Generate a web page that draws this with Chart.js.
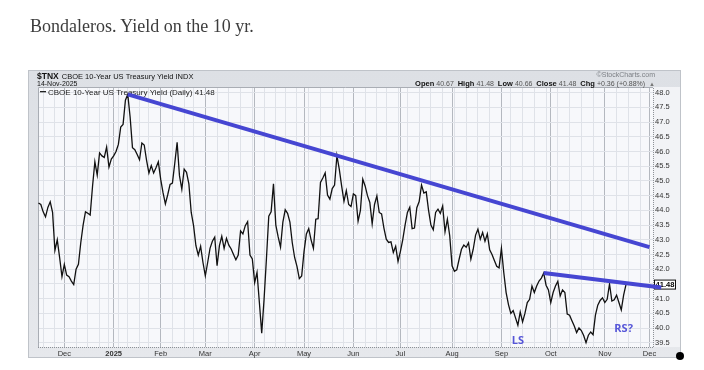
<!DOCTYPE html>
<html>
<head>
<meta charset="utf-8">
<script src="https://cdn.jsdelivr.net/npm/chart.js@4.4.1/dist/chart.umd.min.js"></script>
<style>
  html, body { margin: 0; padding: 0; background: #fff; }
  #wrap { position: relative; width: 704px; height: 370px; }
  #tnx { position: absolute; left: 0; top: 0; }
  #title { position: absolute; left: 30px; top: 17px; line-height: 18px;
           font-family: "Liberation Serif", serif; font-size: 18px; color: #3d3d3d; }
</style>
</head>
<body>
<div id="wrap">
  <canvas id="tnx" width="704" height="370"></canvas>
  <div id="title">Bondaleros. Yield on the 10 yr.</div>
</div>
<script>
// trading calendar (index of a trading day is the x value)
const firstDay = '2024-11-14';
const lastDay = '2025-12-08';
const holidays = ['2024-11-28', '2024-12-25', '2025-01-01', '2025-01-09', '2025-01-20',
  '2025-02-17', '2025-04-18', '2025-05-26', '2025-06-19', '2025-07-04', '2025-09-01', '2025-11-27'];

// $TNX daily close, 14-Nov-2024 .. 14-Nov-2025
const closes = [
  44.25, 44.2, 43.95, 43.78, 44.1, 44.29, 43.93, 42.64, 43.0, 42.4,
  41.75, 42.16, 41.8, 41.75, 41.6, 41.48, 42.0, 42.17, 42.9, 43.5,
  43.95, 43.9, 43.84, 44.81, 45.65, 45.2, 45.95, 45.85, 45.8, 46.15,
  45.47, 45.74, 45.85, 46.0, 46.24, 46.83, 46.92, 47.74, 47.94, 47.17,
  46.13, 46.06, 45.9, 45.72, 46.29, 46.22, 45.7, 45.27, 45.52, 45.27,
  45.45, 45.65, 45.06, 44.6, 44.22, 44.53, 44.88, 44.93, 45.6, 46.31,
  45.18, 44.72, 45.4, 45.29, 44.9, 43.93, 43.48, 42.8, 42.48, 42.78,
  42.23, 41.78, 42.23, 42.71, 42.95, 43.09, 42.12, 42.8, 43.12, 42.71,
  43.05, 42.82, 42.69, 42.5, 42.32, 42.48, 43.3, 43.2, 43.48, 43.62,
  42.48, 42.35, 41.55, 41.89, 40.87, 39.83, 40.98, 42.35, 43.8, 43.95,
  44.9, 43.5, 43.1, 42.75, 43.6, 44.02, 43.9, 43.6, 42.9, 42.4,
  42.1, 41.68, 41.77, 42.6, 43.2, 43.38, 43.0, 42.71, 43.7, 43.72,
  44.95, 45.1, 45.27, 44.52, 44.38, 44.74, 44.86, 45.86, 45.4, 44.83,
  44.31, 44.67, 44.2, 44.13, 44.56, 44.5, 43.63, 44.0, 45.06, 44.83,
  44.5, 44.27, 43.54, 44.2, 44.49, 43.93, 43.88, 43.4, 43.02, 42.91,
  42.93, 42.57, 42.78, 42.27, 42.6, 43.0, 43.5, 43.93, 44.11, 43.38,
  43.4, 44.09, 44.3, 44.86, 44.59, 44.63, 44.0, 43.5, 43.34, 43.93,
  44.04, 43.9, 44.15, 43.27, 43.7, 43.14, 42.12, 41.93, 41.98, 42.34,
  42.68, 42.82, 42.75, 42.9, 42.34, 42.68, 43.16, 43.36, 43.02, 43.25,
  42.95, 43.2, 42.66, 42.5, 42.3, 42.1, 42.05, 42.71, 41.89, 41.21,
  40.8, 40.5, 40.6, 40.35, 40.1, 40.55, 40.21, 40.5, 40.87, 40.98,
  41.43, 41.21, 41.43, 41.6, 41.7, 41.87, 41.46, 41.3, 40.87, 41.21,
  41.43, 41.59, 41.09, 41.3, 41.21, 40.48, 40.44, 40.25, 40.07, 39.85,
  40.01, 39.92, 39.75, 39.51, 39.76, 39.87, 39.78, 40.44, 40.78, 40.94,
  41.03, 40.87, 40.98, 41.5, 40.92, 40.96, 41.12, 40.87, 40.62, 41.12,
  41.48
];

// hand-drawn trend lines: [date, value] ends
const trendFrom = [['2025-01-13', 47.94], ['2025-09-26', 41.87]];
const trendTo = [['2025-12-01', 42.75], ['2025-12-08', 41.38]];

// hand-written notes
const noteText = ['LS', 'RS?'];
const noteAt = [['2025-09-11', 39.56], ['2025-11-13', 39.98]];

const yTickValues = [39.5, 40.0, 40.5, 41.0, 41.5, 42.0, 42.5, 43.0, 43.5, 44.0,
  44.5, 45.0, 45.5, 46.0, 46.5, 47.0, 47.5, 48.0];
const monthNames = ['2025', 'Feb', 'Mar', 'Apr', 'May', 'Jun', 'Jul', 'Aug', 'Sep', 'Oct', 'Nov', 'Dec'];

const quoteLabels = ['Open', 'High', 'Low', 'Close', 'Chg'];
const quoteValues = ['40.67', '41.48', '40.66', '41.48', '+0.36 (+0.88%)'];

const FONT = '"Liberation Sans", Arial, sans-serif';
const BLUE = '#4646d2';

// build the calendar
const dates = [];
for (let d = new Date(firstDay + 'T12:00:00Z'); d <= new Date(lastDay + 'T12:00:00Z'); d.setUTCDate(d.getUTCDate() + 1)) {
  const iso = d.toISOString().slice(0, 10);
  const wd = d.getUTCDay();
  if (wd !== 0 && wd !== 6 && !holidays.includes(iso)) dates.push(iso);
}
const idx = (iso) => dates.indexOf(iso);

const xMax = 261.5;
const gridTicks = [];
const monthStart = {};
dates.forEach((iso, i) => {
  if (i === 0 || i > xMax) return;
  const prev = new Date(dates[i - 1] + 'T12:00:00Z');
  const cur = new Date(iso + 'T12:00:00Z');
  const newMonth = cur.getUTCMonth() !== prev.getUTCMonth();
  const newWeek = cur.getUTCDay() < prev.getUTCDay() || (cur - prev) > 4 * 864e5;
  if (newMonth) monthStart[i] = monthNames[cur.getUTCMonth()];
  if (newMonth || newWeek) gridTicks.push(i);
});

const priceData = closes.map((v, i) => ({ x: i, y: v }));
const trendSets = trendFrom.map((f, k) => ({
  data: [{ x: idx(f[0]), y: f[1] }, { x: idx(trendTo[k][0]), y: trendTo[k][1] }],
  borderColor: BLUE,
  borderWidth: 4,
  pointRadius: 0,
  clip: false
}));

const chrome = {
  id: 'chrome',
  beforeDraw(chart) {
    const { ctx, chartArea: a } = chart;
    ctx.save();
    const g = ctx.createLinearGradient(0, 70, 0, 358);
    g.addColorStop(0, '#dde0e5');
    g.addColorStop(1, '#e6e8ec');
    ctx.fillStyle = g;
    ctx.fillRect(28, 70, 653, 288);
    ctx.strokeStyle = '#bfc3c9';
    ctx.lineWidth = 1;
    ctx.strokeRect(28.5, 70.5, 652, 287);
    ctx.fillStyle = '#f2f3f6';
    ctx.fillRect(a.right, a.top, 680 - a.right, a.bottom - a.top);
    ctx.fillStyle = '#f7f8fb';
    ctx.fillRect(a.left, a.top, a.right - a.left, a.bottom - a.top);
    ctx.restore();
  },
  beforeDatasetsDraw(chart) {
    const { ctx, chartArea: a, scales } = chart;
    ctx.save();
    // plot borders
    ctx.strokeStyle = '#a9adb4';
    ctx.lineWidth = 1;
    ctx.beginPath();
    ctx.moveTo(a.left + 0.5, a.bottom);
    ctx.lineTo(a.left + 0.5, a.top + 0.5);
    ctx.lineTo(a.right, a.top + 0.5);
    ctx.stroke();
    ctx.setLineDash([1, 1]);
    ctx.strokeStyle = '#8d9197';
    ctx.beginPath();
    ctx.moveTo(a.left, a.bottom + 0.5);
    ctx.lineTo(a.right + 0.5, a.bottom + 0.5);
    ctx.lineTo(a.right + 0.5, a.top);
    ctx.stroke();
    ctx.setLineDash([]);
    // legend inside the plot
    ctx.fillStyle = '#222';
    ctx.fillRect(40, 91, 6, 1.3);
    ctx.font = '8px ' + FONT;
    ctx.textBaseline = 'alphabetic';
    ctx.fillText('CBOE 10-Year US Treasury Yield (Daily) ' + closes[closes.length - 1].toFixed(2), 48, 94.5);
    // last value box on the axis
    const y = scales.y.getPixelForValue(closes[closes.length - 1]);
    ctx.fillStyle = '#fff';
    ctx.fillRect(654.5, y - 4.5, 21, 9);
    ctx.strokeStyle = '#111';
    ctx.strokeRect(654.5, y - 4.5, 21, 9);
    ctx.fillStyle = '#000';
    ctx.font = 'bold 7.5px ' + FONT;
    ctx.textAlign = 'center';
    ctx.textBaseline = 'middle';
    ctx.fillText(closes[closes.length - 1].toFixed(2), 665, y + 0.5);
    ctx.restore();
  },
  afterDraw(chart) {
    const { ctx, scales } = chart;
    ctx.save();
    ctx.textBaseline = 'alphabetic';
    ctx.fillStyle = '#111';
    ctx.font = 'bold 8.5px ' + FONT;
    ctx.fillText('$TNX', 37, 78.5);
    const w = ctx.measureText('$TNX').width;
    ctx.font = '7.5px ' + FONT;
    ctx.fillText('CBOE 10-Year US Treasury Yield INDX', 37 + w + 3, 78.5);
    ctx.font = '7px ' + FONT;
    ctx.fillText('14-Nov-2025', 37, 85.5);
    // quote line
    ctx.fillStyle = '#7d8086';
    ctx.textAlign = 'right';
    ctx.fillText('\u00a9StockCharts.com', 655, 77);
    ctx.textAlign = 'left';
    const parts = [];
    quoteLabels.forEach((lab, k) => {
      parts.push(['bold 7.5px ' + FONT, '#111', lab + ' ']);
      parts.push(['7px ' + FONT, '#555', quoteValues[k] + '  ']);
    });
    parts.push(['6px ' + FONT, '#777', '\u25b2']);
    let total = 0;
    parts.forEach(p => { ctx.font = p[0]; total += ctx.measureText(p[2]).width; });
    let x = 655 - total;
    parts.forEach(p => {
      ctx.font = p[0]; ctx.fillStyle = p[1];
      ctx.fillText(p[2], x, 85.5);
      x += ctx.measureText(p[2]).width;
    });
    // notes
    ctx.fillStyle = '#5656d8';
    ctx.font = 'bold 11px "Open Sans", ' + FONT;
    ctx.textAlign = 'center';
    ctx.textBaseline = 'middle';
    noteText.forEach((t, k) => {
      ctx.fillText(t, scales.x.getPixelForValue(idx(noteAt[k][0])), scales.y.getPixelForValue(noteAt[k][1]));
    });
    // corner blot
    ctx.fillStyle = '#000';
    ctx.beginPath();
    ctx.arc(680, 356, 4, 0, Math.PI * 2);
    ctx.fill();
    ctx.restore();
  }
};

new Chart(document.getElementById('tnx'), {
  type: 'line',
  data: {
    datasets: [
      ...trendSets,
      {
        label: 'CBOE 10-Year US Treasury Yield (Daily)',
        data: priceData,
        borderColor: '#111',
        borderWidth: 1.3,
        pointRadius: 0,
        tension: 0
      }
    ]
  },
  options: {
    responsive: false,
    animation: false,
    devicePixelRatio: 1,
    layout: { padding: { left: 38, top: 87, right: 24, bottom: 12 } },
    plugins: { legend: { display: false }, tooltip: { enabled: false } },
    scales: {
      x: {
        type: 'linear',
        min: -0.2,
        max: xMax,
        afterBuildTicks(scale) { scale.ticks = gridTicks.map(v => ({ value: v })); },
        afterFit(scale) { scale.height = 11; },
        border: { display: false },
        grid: {
          drawTicks: false,
          color: (c) => (c.tick && monthStart[c.tick.value] ? '#b4b8bf' : '#dfe2e8')
        },
        ticks: {
          autoSkip: false,
          maxRotation: 0,
          padding: 2,
          color: '#333',
          font: (c) => ({ family: FONT, size: 7.5,
            weight: c.tick && monthStart[c.tick.value] === '2025' ? 'bold' : 'normal' }),
          callback: (v) => monthStart[v] || ''
        }
      },
      y: {
        position: 'right',
        min: 39.36,
        max: 48.19,
        afterBuildTicks(scale) {
          const t = [];
          yTickValues.forEach(v => { t.push({ value: v }); if (v < 48) t.push({ value: v + 0.25 }); });
          scale.ticks = t;
        },
        afterFit(scale) { scale.width = 27; },
        border: { display: false },
        grid: { drawTicks: false, color: '#dfe2e8' },
        ticks: {
          padding: 2,
          color: '#333',
          font: { family: FONT, size: 7.5 },
          callback: (v) => (yTickValues.includes(v) ? v.toFixed(1) : '')
        }
      }
    }
  },
  plugins: [chrome]
});
</script>
</body>
</html>
